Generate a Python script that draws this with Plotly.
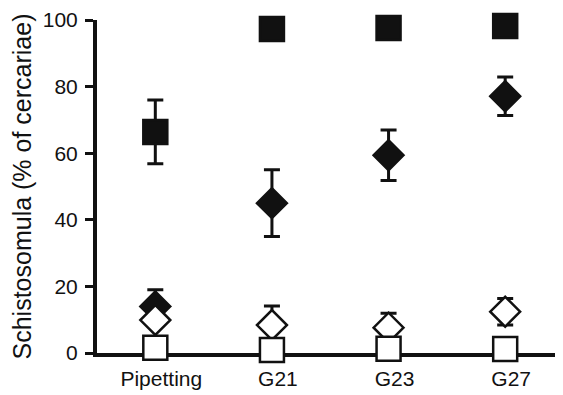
import plotly.graph_objects as go

categories = ["Pipetting", "G21", "G23", "G27"]
filled_sq = [66.4, 97.3, 97.6, 98.2]
filled_sq_err = [9.6, 0, 0, 0]
filled_dia = [14.0, 45.0, 59.4, 77.1]
filled_dia_err = [5.0, 10.0, 7.6, 5.8]
open_dia = [9.9, 8.4, 7.6, 12.4]
open_dia_err = [0, 5.7, 4.3, 4.0]
open_sq = [1.6, 0.9, 1.3, 1.2]
open_sq_err = [0, 0, 0, 0]

ink = "#111111"
xpos = list(range(len(categories)))

def series(y, err, symbol, fill):
    return go.Scatter(
        x=xpos, y=y, mode="markers", cliponaxis=False,
        marker=dict(symbol=symbol, size=24 if "square" in symbol else 23,
                    color=fill, line=dict(color=ink, width=2.5)),
        error_y=dict(type="data", array=err, visible=True, color=ink,
                     thickness=3, width=8),
        showlegend=False,
    )

fig = go.Figure()
fig.add_trace(series(filled_sq, filled_sq_err, "square", ink))
fig.add_trace(series(filled_dia, filled_dia_err, "diamond", ink))
fig.add_trace(series(open_dia, open_dia_err, "diamond", "white"))
fig.add_trace(series(open_sq, open_sq_err, "square", "white"))

fig.update_layout(
    width=563, height=395,
    margin=dict(l=89, r=11, t=12, b=50, autoexpand=False),
    plot_bgcolor="white", paper_bgcolor="white",
    font=dict(family="Liberation Sans, Arial", size=20, color=ink),
    xaxis=dict(range=[-0.5, 3.47], tickmode="array", tickvals=xpos,
               ticktext=categories, showgrid=False, zeroline=False,
               showline=True, linecolor=ink, linewidth=4, ticks="",
               layer="below traces", ticklabelstandoff=4, automargin=False,
               ticklabelshift=6, tickfont=dict(size=21)),
    yaxis=dict(range=[0, 100], tickvals=[0, 20, 40, 60, 80, 100],
               showgrid=False, zeroline=False, showline=True,
               linecolor=ink, linewidth=4, ticks="outside", ticklen=8,
               tickwidth=3, tickcolor=ink, layer="below traces",
               tickfont=dict(size=21), automargin=False, ticklabelstandoff=3,
               title=dict(text="Schistosomula (% of cercariae)",
                          font=dict(size=25), standoff=6)),
)

fig.write_html("out.html")
